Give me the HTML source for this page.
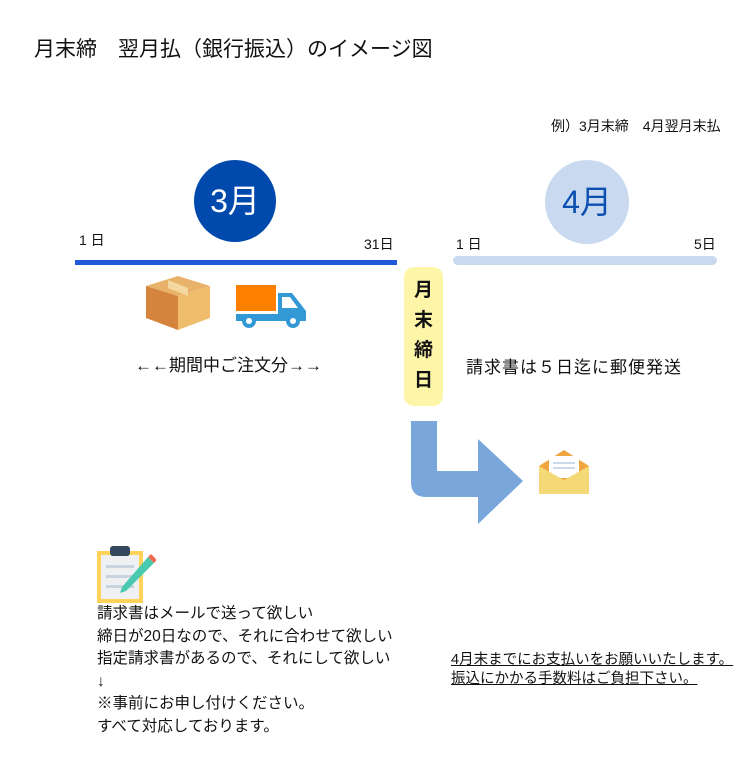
<!DOCTYPE html>
<html><head><meta charset="utf-8"><style>
body{margin:0;width:750px;height:763px;background:#fff;position:relative;font-family:"Liberation Sans","Noto Sans CJK JP",sans-serif;color:#111;overflow:hidden}
.a{position:absolute;white-space:nowrap}
</style></head><body>
<div class="a" style="left:34px;top:33px;font-size:21px">月末締　翌月払（銀行振込）のイメージ図</div>
<div class="a" style="left:551px;top:116px;font-size:14px">例）3月末締　4月翌月末払</div>
<div class="a" style="left:194px;top:160px;width:82px;height:82px;border-radius:50%;background:#004aad;color:#fff;font-size:32px;line-height:82px;text-align:center">3月</div>
<div class="a" style="left:545px;top:160px;width:84px;height:84px;border-radius:50%;background:#c9daf0;color:#0b4fb0;font-size:32px;line-height:84px;text-align:center">4月</div>
<div class="a" style="left:79px;top:230px;font-size:14px">1 日</div>
<div class="a" style="left:364px;top:234px;font-size:14px">31日</div>
<div class="a" style="left:456px;top:234px;font-size:14px">1 日</div>
<div class="a" style="left:694px;top:234px;font-size:14px">5日</div>
<div class="a" style="left:75px;top:260px;width:322px;height:5px;background:#1e5ad8"></div>
<div class="a" style="left:453px;top:256px;width:264px;height:9px;border-radius:5px;background:#c9daf0"></div>
<svg class="a" style="left:140px;top:274px" width="75" height="58"><polygon points="6,12 38,2 70,12 38,22" fill="#e9b26a"/><polygon points="6,12 38,22 38,56 6,44" fill="#d4843c"/><polygon points="38,22 70,12 70,44 38,56" fill="#f0bd6c"/><polygon points="28,6 48,14 48,22 28,14" fill="#f3d9a0"/></svg>
<svg class="a" style="left:234px;top:283px" width="78" height="46"><rect x="2" y="2" width="40" height="26" fill="#ff8000"/><path d="M2,31 H44 V10 H58 L72,28 V38 H2Z" fill="#3399d6"/><path d="M48,14h8l8,11h-16z" fill="#fff"/><circle cx="15" cy="38" r="7" fill="#3399d6"/><circle cx="15" cy="38" r="3" fill="#fff"/><circle cx="59" cy="38" r="7" fill="#3399d6"/><circle cx="59" cy="38" r="3" fill="#fff"/></svg>
<div class="a" style="left:135px;top:351px;font-size:17px">←←期間中ご注文分→→</div>
<div class="a" style="left:404px;top:267px;width:39px;height:139px;border-radius:10px;background:#fdf6a8;font-size:19px;font-weight:bold;text-align:center;line-height:30px;padding-top:9px;box-sizing:border-box">月<br>末<br>締<br>日</div>
<div class="a" style="left:466px;top:353px;font-size:17px;letter-spacing:1px">請求書は５日迄に郵便発送</div>
<svg class="a" style="left:400px;top:415px" width="130" height="115"><path d="M11,6 H37 V56 H78 V24 L123,66 L78,109 V82 H26 Q11,82 11,67Z" fill="#7aa7db"/></svg>
<svg class="a" style="left:537px;top:448px" width="56" height="50"><polygon points="2,18 27,2 52,18 52,46 2,46" fill="#f0a640"/><rect x="12" y="8" width="30" height="22" fill="#fff"/><line x1="16" y1="15" x2="38" y2="15" stroke="#b8cfe8" stroke-width="1.5"/><line x1="16" y1="20" x2="38" y2="20" stroke="#b8cfe8" stroke-width="1.5"/><polygon points="2,18 27,32 52,18 52,46 2,46" fill="#f6d977"/></svg>
<svg class="a" style="left:96px;top:545px" width="60" height="60"><rect x="1" y="6" width="46" height="52" fill="#ffd25a"/><rect x="5" y="10" width="38" height="44" fill="#eef0f2"/><rect x="14" y="1" width="20" height="10" rx="3" fill="#34495e"/><rect x="10" y="20" width="28" height="3" fill="#c8d4e0"/><rect x="10" y="30" width="28" height="3" fill="#c8d4e0"/><rect x="10" y="40" width="28" height="3" fill="#c8d4e0"/><path d="M52,12 L58,18 L30,46 L24,48 L26,42Z" fill="#48c9b0"/><path d="M52,12 L58,18 L61,15 L55,9Z" fill="#f26b4f"/></svg>
<div class="a" style="left:97px;top:603px;font-size:15.5px;line-height:22.5px">請求書はメールで送って欲しい<br>締日が20日なので、それに合わせて欲しい<br>指定請求書があるので、それにして欲しい<br>↓<br>※事前にお申し付けください。<br>すべて対応しております。</div>
<div class="a" style="left:451px;top:651px;font-size:14.5px;line-height:19px;text-decoration:underline">4月末までにお支払いをお願いいたします。<br>振込にかかる手数料はご負担下さい。</div>
</body></html>
